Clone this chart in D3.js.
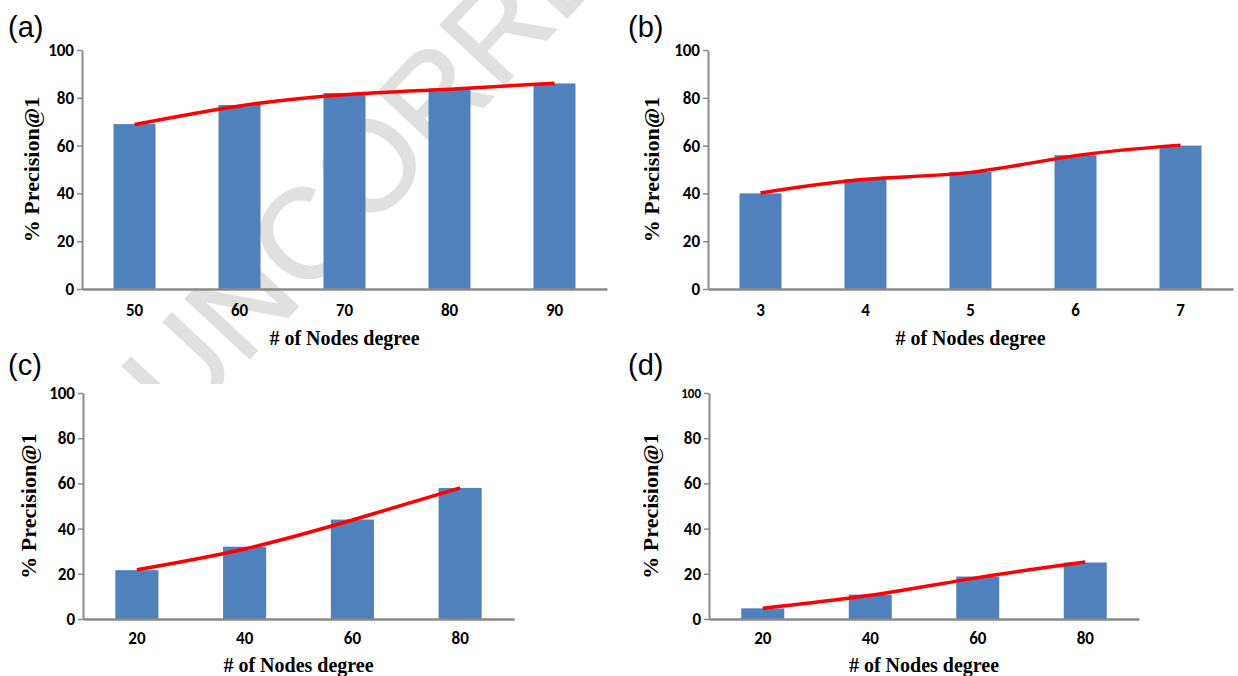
<!DOCTYPE html>
<html>
<head>
<meta charset="utf-8">
<script src="https://cdn.jsdelivr.net/npm/d3@7"></script>
<style>
  html, body { margin: 0; padding: 0; background: #fff; }
  svg { display: block; }
</style>
</head>
<body>
<div id="chart"></div>
<script>
// ---- data ----
const yTicks = [0, 20, 40, 60, 80, 100];

const catsA = ["50", "60", "70", "80", "90"];
const valsA = [69, 77, 82, 84, 86];
const trendA = [68.8, 76.6, 81.3, 83.6, 86.1];

const catsB = ["3", "4", "5", "6", "7"];
const valsB = [40, 46, 49, 56, 60];
const trendB = [40.2, 45.9, 48.8, 55.8, 60.2];

const catsC = ["20", "40", "60", "80"];
const valsC = [21.6, 32, 44, 58];
const trendC = [21.8, 31, 43.8, 58];

const catsD = ["20", "40", "60", "80"];
const valsD = [4.7, 10.8, 18.8, 25];
const trendD = [4.8, 10.5, 18.3, 25.2];

const panelLabels = ["(a)", "(b)", "(c)", "(d)"];
const yTitle = "% Precision@1";
const xTitle = "# of Nodes degree";
const watermark = "UNCORRECTED PROOF";

// ---- layout ----
const W = 1238, H = 676;
const svg = d3.select("#chart").append("svg").attr("width", W).attr("height", H);

// watermark (behind everything, hidden by the lower-left figure)
svg.append("defs").append("clipPath").attr("id", "wmclip")
  .append("rect").attr("x", 0).attr("y", 0).attr("width", 620).attr("height", 384);
svg.append("g").attr("clip-path", "url(#wmclip)")
  .append("text")
  .attr("transform", "translate(180,433) rotate(-47)")
  .attr("font-family", "'Liberation Sans', Arial, sans-serif")
  .attr("font-size", 127)
  .attr("fill", "#e0e0e0")
  .attr("stroke", "#e0e0e0")
  .attr("stroke-width", 2)
  .text(watermark);

const panels = [
  { cats: catsA, vals: valsA, trend: trendA, label: panelLabels[0], lx: 8, ly: 37,
    x0: 82, x1: 607, y0: 289, y1: 50, ytx: 31, xtDy: 56, tickPad: 15 },
  { cats: catsB, vals: valsB, trend: trendB, label: panelLabels[1], lx: 628, ly: 37,
    x0: 708, x1: 1233, y0: 289, y1: 50, ytx: 651, xtDy: 56, tickPad: 15 },
  { cats: catsC, vals: valsC, trend: trendC, label: panelLabels[2], lx: 8, ly: 375,
    x0: 83, x1: 514, y0: 619, y1: 393, ytx: 28, xtDy: 53, tickPad: 13 },
  { cats: catsD, vals: valsD, trend: trendD, label: panelLabels[3], lx: 628, ly: 375,
    x0: 709, x1: 1139, y0: 619, y1: 393, ytx: 650, xtDy: 53, tickPad: 13, small100: true }
];

const tickFont = "Carlito, Lato, 'Open Sans', sans-serif";
const serif = "'Liberation Serif', 'Times New Roman', serif";
const axisColor = "#8a8a8a";

panels.forEach(p => {
  const g = svg.append("g");
  const x = d3.scaleBand().domain(p.cats).range([p.x0, p.x1]).paddingInner(0.6).paddingOuter(0.3);
  const y = d3.scaleLinear().domain([0, 100]).range([p.y0, p.y1]);

  // bars
  g.selectAll("rect.bar").data(p.cats).join("rect")
    .attr("class", "bar")
    .attr("x", d => x(d))
    .attr("width", x.bandwidth())
    .attr("y", (d, i) => y(p.vals[i]))
    .attr("height", (d, i) => y(0) - y(p.vals[i]))
    .attr("fill", "#4f81bd");

  // y axis
  const ya = g.append("g").attr("transform", `translate(${p.x0},0)`)
    .call(d3.axisLeft(y).tickValues(yTicks).tickSize(5).tickSizeOuter(0).tickPadding(3));
  ya.select(".domain").attr("stroke", axisColor).attr("stroke-width", 2);
  ya.selectAll(".tick line").attr("stroke", axisColor).attr("stroke-width", 1.5);
  ya.selectAll(".tick text")
    .attr("font-family", tickFont).attr("font-weight", "bold")
    .attr("font-size", d => (p.small100 && d === 100) ? 13 : 17)
    .attr("fill", "#000");

  // x axis
  const xa = g.append("g").attr("transform", `translate(0,${p.y0})`)
    .call(d3.axisBottom(x).tickSize(0).tickSizeOuter(0).tickPadding(p.tickPad));
  xa.select(".domain").attr("stroke", axisColor).attr("stroke-width", 2.5);
  xa.selectAll(".tick text")
    .attr("font-family", tickFont).attr("font-weight", "bold")
    .attr("font-size", 17).attr("fill", "#000");

  // trend line
  const line = d3.line()
    .x((d, i) => x(p.cats[i]) + x.bandwidth() / 2)
    .y(d => y(d))
    .curve(d3.curveNatural);
  g.append("path").datum(p.trend)
    .attr("d", line)
    .attr("fill", "none")
    .attr("stroke", "#ff0000")
    .attr("stroke-width", 3.5);

  // axis titles
  g.append("text")
    .attr("transform", `translate(${p.ytx},${(p.y0 + p.y1) / 2}) rotate(-90)`)
    .attr("text-anchor", "middle")
    .attr("dominant-baseline", "central")
    .attr("font-family", serif).attr("font-weight", "bold").attr("font-size", 22)
    .text(yTitle);
  g.append("text")
    .attr("x", (p.x0 + p.x1) / 2)
    .attr("y", p.y0 + p.xtDy)
    .attr("text-anchor", "middle")
    .attr("font-family", serif).attr("font-weight", "bold").attr("font-size", 20)
    .text(xTitle);

  // panel label
  g.append("text")
    .attr("x", p.lx).attr("y", p.ly)
    .attr("font-family", "'Liberation Sans', Arial, sans-serif")
    .attr("font-size", 29)
    .text(p.label);
});
</script>
</body>
</html>
